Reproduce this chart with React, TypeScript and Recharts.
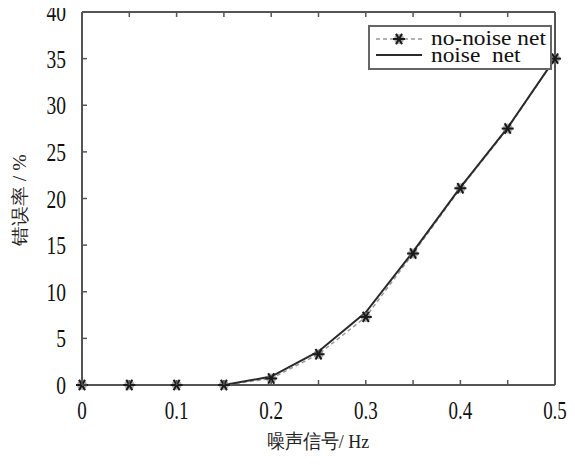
import { LineChart, Line, XAxis, YAxis } from 'recharts';

const freqs = [0, 0.05, 0.1, 0.15, 0.2, 0.25, 0.3, 0.35, 0.4, 0.45, 0.5];
const noNoiseNet = [0, 0, 0, 0, 0.7, 3.3, 7.3, 14.1, 21.1, 27.5, 35];
const noiseNet = [0, 0, 0, 0, 0.9, 3.6, 7.8, 14.3, 21.2, 27.6, 35];
const xTicks = [0, 0.05, 0.1, 0.15, 0.2, 0.25, 0.3, 0.35, 0.4, 0.45, 0.5];
const xTickLabels = ['0', '', '0.1', '', '0.2', '', '0.3', '', '0.4', '', '0.5'];
const yTicks = [0, 5, 10, 15, 20, 25, 30, 35, 40];

const data = freqs.map((f, i) => ({ f, a: noNoiseNet[i], b: noiseNet[i] }));

const FONT = 'Liberation Serif';
const FRAME = '#555';

function BottomTick(props: any) {
  const { x, y, index } = props;
  const label = xTickLabels[index] ?? '';
  return (
    <g>
      <line x1={x} y1={y} x2={x} y2={y - 5} stroke={FRAME} strokeWidth={1.5} />
      {label ? (
        <text
          transform={`translate(${x},${y + 34}) scale(1,1.3)`}
          textAnchor="middle"
          fontSize={19}
          fill="#111"
          fontFamily={FONT}
        >
          {label}
        </text>
      ) : null}
    </g>
  );
}

function TopTick(props: any) {
  const { x, y } = props;
  return <line x1={x} y1={y} x2={x} y2={y + 5} stroke={FRAME} strokeWidth={1.5} />;
}

function LeftTick(props: any) {
  const { x, y, payload } = props;
  return (
    <g>
      <line x1={x} y1={y} x2={x + 5} y2={y} stroke={FRAME} strokeWidth={1.5} />
      <text
        transform={`translate(${x - 16},${y + 9}) scale(1,1.3)`}
        textAnchor="end"
        fontSize={19.5}
        fill="#111"
        fontFamily={FONT}
      >
        {payload.value}
      </text>
    </g>
  );
}

function RightTick(props: any) {
  const { x, y } = props;
  return <line x1={x} y1={y} x2={x - 5} y2={y} stroke={FRAME} strokeWidth={1.5} />;
}

function StarDot(props: any) {
  const { cx, cy } = props;
  if (cx == null || cy == null) return null;
  const r = 6;
  const arms = [0, 60, 120].map((deg) => {
    const a = (deg * Math.PI) / 180;
    return (
      <line
        key={deg}
        x1={cx - r * Math.cos(a)}
        y1={cy - r * Math.sin(a)}
        x2={cx + r * Math.cos(a)}
        y2={cy + r * Math.sin(a)}
        stroke="#1a1a1a"
        strokeWidth={2}
      />
    );
  });
  return (
    <g>
      <circle cx={cx} cy={cy} r={5} fill="#777" opacity={0.6} />
      {arms}
    </g>
  );
}

const legendText = {
  position: 'absolute' as const,
  left: 61,
  whiteSpace: 'pre' as const,
  lineHeight: '16px',
  transform: 'scaleX(1.14)',
  transformOrigin: 'left center',
};

export default function App() {
  return (
    <div style={{ position: 'relative', width: 575, height: 465, margin: -8, background: '#fff', fontFamily: FONT }}>
      <LineChart width={575} height={465} data={data} margin={{ top: 11, right: 19, bottom: 79, left: 81 }}>
        <XAxis
          dataKey="f"
          type="number"
          domain={[0, 0.5]}
          ticks={xTicks}
          interval={0}
          height={1}
          tickSize={0}
          tickMargin={0}
          tickLine={false}
          tick={<BottomTick />}
          axisLine={{ stroke: FRAME, strokeWidth: 2 }}
        />
        <XAxis
          xAxisId="top"
          orientation="top"
          dataKey="f"
          type="number"
          domain={[0, 0.5]}
          ticks={xTicks}
          interval={0}
          height={1}
          tickSize={0}
          tickMargin={0}
          tickLine={false}
          tick={<TopTick />}
          axisLine={{ stroke: FRAME, strokeWidth: 2 }}
        />
        <YAxis
          type="number"
          domain={[0, 40]}
          ticks={yTicks}
          interval={0}
          width={1}
          tickSize={0}
          tickMargin={0}
          tickLine={false}
          tick={<LeftTick />}
          axisLine={{ stroke: FRAME, strokeWidth: 2 }}
        />
        <YAxis
          yAxisId="right"
          orientation="right"
          type="number"
          domain={[0, 40]}
          ticks={yTicks}
          interval={0}
          width={1}
          tickSize={0}
          tickMargin={0}
          tickLine={false}
          tick={<RightTick />}
          axisLine={{ stroke: FRAME, strokeWidth: 2 }}
        />
        <Line
          dataKey="a"
          type="linear"
          stroke="#999"
          strokeWidth={1.5}
          strokeDasharray="4 3"
          dot={<StarDot />}
          isAnimationActive={false}
        />
        <Line
          dataKey="b"
          type="linear"
          stroke="#2a2a2a"
          strokeWidth={2}
          dot={false}
          isAnimationActive={false}
        />
      </LineChart>

      <div
        style={{
          position: 'absolute',
          left: 368,
          top: 25,
          width: 180,
          height: 41,
          border: '2px solid #666',
          background: '#fff',
          fontSize: 20.5,
          color: '#111',
        }}
      >
        <svg width={54} height={41} style={{ position: 'absolute', left: 2, top: 0 }}>
          <line x1={4} y1={12} x2={50} y2={12} stroke="#999" strokeWidth={1.5} strokeDasharray="4 3" />
          <StarDot cx={27} cy={12} />
          <line x1={4} y1={28} x2={50} y2={28} stroke="#2a2a2a" strokeWidth={2} />
        </svg>
        <div style={{ ...legendText, top: 3 }}>no-noise net</div>
        <div style={{ ...legendText, top: 20 }}>noise  net</div>
      </div>

      <div
        style={{
          position: 'absolute',
          left: 20,
          top: 200,
          transform: 'translate(-50%, -50%) rotate(-90deg) scale(1.1, 1)',
          whiteSpace: 'nowrap',
          fontSize: 18,
          color: '#222',
        }}
      >
        错误率 / %
      </div>

      <div
        style={{
          position: 'absolute',
          left: 318,
          top: 441,
          transform: 'translate(-50%, -50%) scale(1, 1.1)',
          whiteSpace: 'nowrap',
          fontSize: 18,
          color: '#222',
        }}
      >
        噪声信号/ Hz
      </div>
    </div>
  );
}
